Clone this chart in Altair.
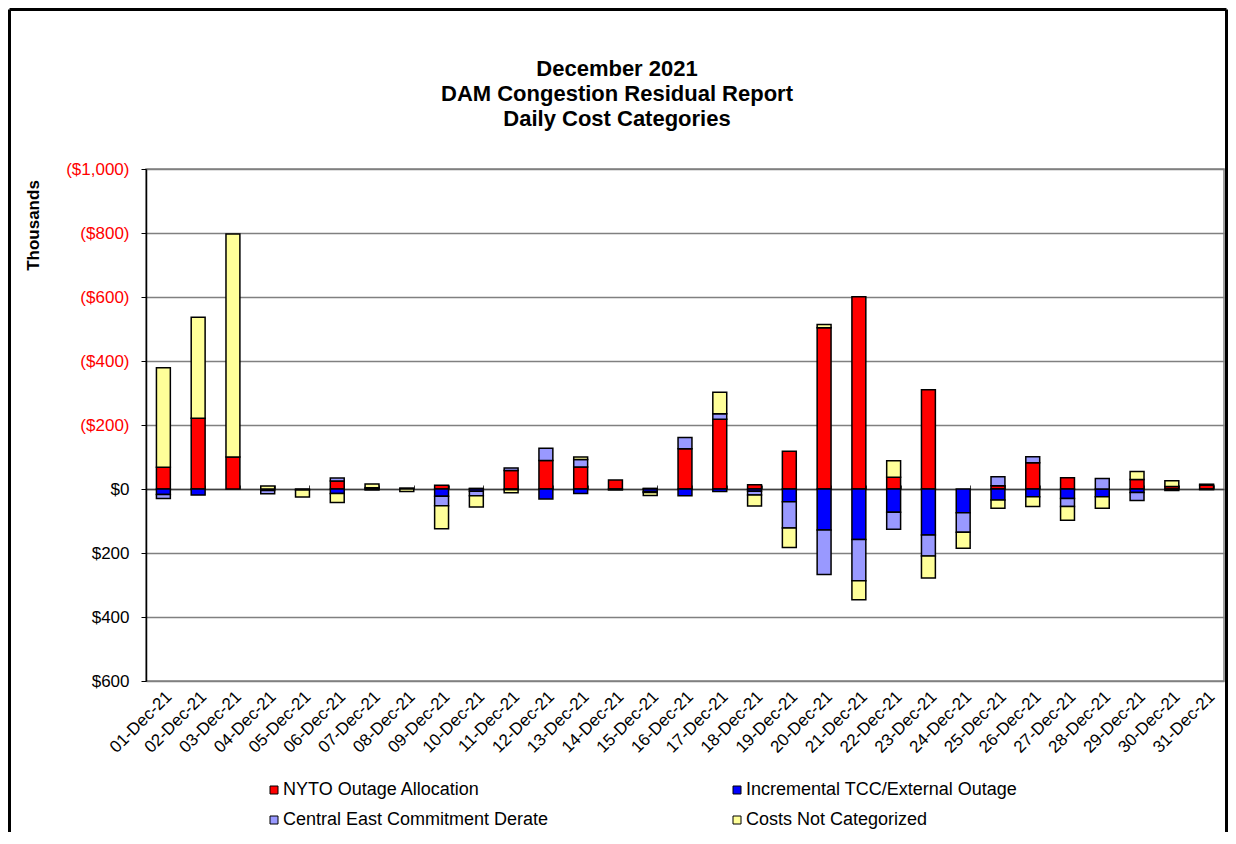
import altair as alt
import pandas as pd

# ---- data (US$ thousands; negative = cost, drawn upward on the reversed axis) ----
days = [f"{d:02d}-Dec-21" for d in range(1, 32)]
series_names = [
    "NYTO Outage Allocation",
    "Incremental TCC/External Outage",
    "Central East Commitment Derate",
    "Costs Not Categorized",
]
series_colors = ["#FF0000", "#0000FF", "#9999FF", "#FFFF99"]

nyto = [-68, -221, -100, 0, 0, -25, -4, -3, -12, -2, -58, -89, -69, -28, -2, -126,
        -218, -13, -118, -504, -601, -37, -310, 0, -10, -82, -35, 0, -30, -8, -12]
incr = [17, 19, 0, 5, 3, 14, 3, 0, 23, 7, 2, 31, 14, 3, 8, 21,
        8, 7, 40, 128, 158, 73, 144, 74, 34, 24, 30, 24, 11, 5, 2]
ce = [13, 0, 0, 10, 0, -9, 0, 0, 29, 14, -8, -38, -23, 0, 3, -35,
      -17, 12, 82, 139, 129, 53, 65, 61, -28, -19, 25, -33, 25, 0, 0]
nc = [-311, -316, -697, -9, 22, 28, -12, 8, 72, 35, 10, 0, -8, 0, 9, 0,
      -67, 34, 61, -10, 59, -51, 69, 50, 26, 31, 43, 36, -25, -18, -3]

y_ticks = [-1000, -800, -600, -400, -200, 0, 200, 400, 600]
y_domain = [-1000, 600]

rows = []
for k, (name, vals) in enumerate(zip(series_names, [nyto, incr, ce, nc])):
    for d, v in zip(days, vals):
        rows.append({"day": d, "series": name, "value": v, "ord": k})
df = pd.DataFrame(rows)

W, H = 1078, 512
zero_px = H * (0 - y_domain[0]) / (y_domain[1] - y_domain[0])
FONT = "Liberation Sans"

bars = alt.Chart(df).transform_filter("datum.value != 0").mark_bar(
    stroke="black", strokeWidth=1.5
).encode(
    x=alt.X("day:N", sort=days,
            scale=alt.Scale(paddingInner=0.6, paddingOuter=0.3),
            axis=alt.Axis(orient="bottom", title=None, domain=False, ticks=False,
                          labelAngle=-45, labelAlign="right", labelBaseline="top",
                          labelFontSize=17, labelPadding=7, labelColor="#000000")),
    y=alt.Y("value:Q", stack="zero",
            scale=alt.Scale(domain=y_domain, reverse=True, nice=False, zero=False),
            axis=alt.Axis(values=y_ticks, title="Thousands", titleFontSize=17,
                          titleFontWeight="bold", titleAngle=270, titleX=-113, titleY=56,
                          titleAlign="center", titleBaseline="middle", titleColor="#000000",
                          labelExpr="datum.value < 0 ? '($' + format(-datum.value, ',') + ')' : '$' + format(datum.value, ',')",
                          labelColor={"condition": {"test": "datum.value < 0", "value": "#FF0000"}, "value": "#000000"},
                          labelFontSize=17, labelPadding=12, tickSize=5, tickColor="#000000",
                          domainColor="#000000", domainWidth=1.5, gridColor="#808080",
                          gridWidth=1.5)),
    color=alt.Color("series:N",
                    scale=alt.Scale(domain=series_names, range=series_colors),
                    legend=alt.Legend(title=None, orient="none", legendX=119, legendY=612,
                                      direction="horizontal",
                                      columns=2, columnPadding=179, rowPadding=12,
                                      symbolType="square", symbolSize=64,
                                      symbolStrokeColor="#000000", symbolStrokeWidth=1,
                                      labelFontSize=18, labelOffset=0, labelFont=FONT,
                                      labelLimit=0, labelColor="#000000", padding=0)),
    order=alt.Order("ord:Q"),
)

top_axis = alt.Chart(df).mark_point(opacity=0).encode(
    x=alt.X("day:N", sort=days,
            axis=alt.Axis(orient="top", title=None, labels=False, grid=False,
                          offset=-zero_px, tickBand="extent", tickSize=4,
                          tickColor="#404040", tickWidth=1, domainColor="#404040",
                          domainWidth=1.5)),
)

one = pd.DataFrame({"k": [0]})
frame_left = alt.Chart(one).mark_rule(color="black", strokeWidth=3).encode(
    x=alt.value(-136.5), y=alt.value(-159.5), y2=alt.value(H + 400))
frame_top = alt.Chart(one).mark_rule(color="black", strokeWidth=3).encode(
    x=alt.value(-136.5), x2=alt.value(W + 2.5), y=alt.value(-159.5))
frame_right = alt.Chart(one).mark_rule(color="black", strokeWidth=3).encode(
    x=alt.value(W + 2.5), y=alt.value(-159.5), y2=alt.value(H + 400))

chart = alt.layer(bars, top_axis, frame_left, frame_top, frame_right).resolve_axis(
    x="independent"
).properties(
    width=W, height=H,
    padding={"left": 138, "top": 161, "right": 4, "bottom": 151},
    autosize=alt.AutoSizeParams(type="none"),
    title=alt.TitleParams(
        text=["December 2021", "DAM Congestion Residual Report", "Daily Cost Categories"],
        fontSize=22, fontWeight="bold", font=FONT, color="#000000",
        anchor="middle", dx=-68, offset=0, dy=123, lineHeight=25),
).configure_view(
    stroke="#808080", strokeWidth=1.5
).configure_axis(
    labelFont=FONT, titleFont=FONT
)

chart.save("out.html", embed_options={"renderer": "svg", "actions": False})
